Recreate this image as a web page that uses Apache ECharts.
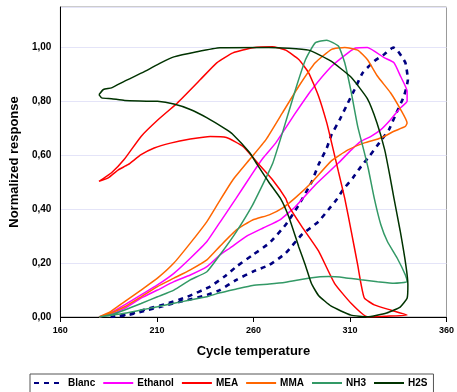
<!DOCTYPE html>
<html>
<head>
<meta charset="utf-8">
<script src="https://cdn.jsdelivr.net/npm/echarts@6.0.0/dist/echarts.min.js"></script>
<style>
  html, body { margin: 0; padding: 0; background: #fff; }
  #chart { width: 457px; height: 392px; }
</style>
</head>
<body>
<div id="chart"></div>
<script>
// [temperature, normalized response] pairs, each loop = heating + cooling
const blanc = [
  [186, 0], [195, 0.01], [205, 0.03], [215.4, 0.05], [225.7, 0.075], [237.6, 0.113], [245, 0.15],
  [251.2, 0.187], [259.6, 0.23], [268.2, 0.274], [276.7, 0.342], [283.5, 0.416], [290.3, 0.503],
  [293.7, 0.565], [298, 0.627], [300.5, 0.677], [304.7, 0.732], [308.1, 0.782], [312.4, 0.844],
  [316.6, 0.906], [322.6, 0.949], [327.7, 0.974], [332.5, 1.0], [334.5, 0.99], [338.7, 0.943],
  [340, 0.88], [338, 0.82], [333.6, 0.75], [330.2, 0.695], [325.2, 0.646], [320, 0.596],
  [315.8, 0.559], [311.5, 0.516], [306.4, 0.472], [303, 0.435], [298.8, 0.398], [293.7, 0.354],
  [285, 0.305], [276.7, 0.237], [268.2, 0.193], [259.6, 0.168], [251.2, 0.138], [242.6, 0.1],
  [235.9, 0.082], [225.7, 0.063], [215.4, 0.045], [205.3, 0.026], [195, 0.007], [186, 0]
];
const ethanol = [
  [180, 0], [186, 0.015], [193.3, 0.045], [201.8, 0.082], [210.3, 0.119], [218.8, 0.162],
  [227.3, 0.218], [235.9, 0.28], [243, 0.355], [251, 0.44], [259.6, 0.534], [265, 0.59],
  [271.6, 0.646], [281.8, 0.757], [290.3, 0.844], [300.5, 0.93], [309, 0.98], [313, 0.998],
  [319, 1.0], [327.7, 0.962], [332.8, 0.943], [336.2, 0.893], [339.6, 0.838], [339.6, 0.8],
  [336.2, 0.776], [331, 0.732], [326, 0.695], [320.9, 0.67], [315.8, 0.652], [310.7, 0.62],
  [304, 0.571], [292, 0.49], [281.8, 0.41], [273.7, 0.36], [265, 0.33], [256.3, 0.299],
  [247.7, 0.255], [242.6, 0.23], [235.9, 0.187], [227.3, 0.156], [218.8, 0.131], [210.3, 0.1],
  [201.8, 0.07], [193.3, 0.032], [184.8, 0.007], [180, 0]
];
const mea = [
  [180, 0.503], [186.5, 0.535], [193, 0.584], [201.8, 0.67], [210.3, 0.73], [220.6, 0.794],
  [232.4, 0.88], [241, 0.943], [249.4, 0.98], [259.7, 0.999], [269.8, 1.003], [276.7, 0.99],
  [283.5, 0.955], [288.6, 0.906], [293.7, 0.82], [298, 0.72], [300.5, 0.646], [304, 0.54],
  [307.3, 0.44], [310.7, 0.317], [314, 0.193], [315.8, 0.12], [317.5, 0.07], [322.6, 0.045],
  [331, 0.026], [339.6, 0.007], [329, 0.003], [319, 0.001], [310.7, 0.05], [302, 0.125],
  [293.7, 0.245], [285, 0.336], [278.4, 0.41], [276.7, 0.44], [269.8, 0.51], [263, 0.565],
  [254.6, 0.633], [246, 0.666], [237.6, 0.67], [227.3, 0.66], [217, 0.645], [208.6, 0.627],
  [201.8, 0.602], [195, 0.565], [190, 0.546], [184.8, 0.516], [180, 0.503]
];
const mma = [
  [180, 0], [186, 0.02], [193.3, 0.057], [201.8, 0.1], [210.3, 0.144], [218.8, 0.2],
  [227.3, 0.274], [235.9, 0.354], [242, 0.425], [249.4, 0.509], [258, 0.584], [266.5, 0.658],
  [275, 0.757], [283.5, 0.856], [292, 0.943], [300.5, 0.993], [307.3, 1.0], [314, 0.99],
  [319, 0.955], [324.3, 0.893], [331, 0.832], [336.2, 0.77], [339.6, 0.72], [338.7, 0.707],
  [332.8, 0.689], [326, 0.664], [317.5, 0.646], [309, 0.62], [300.5, 0.58], [290.3, 0.5],
  [281.8, 0.443], [275, 0.404], [268.2, 0.379], [259.6, 0.36], [251.2, 0.323], [242.6, 0.262],
  [235.9, 0.212], [227.3, 0.175], [218.8, 0.144], [210.3, 0.113], [201.8, 0.075], [193.3, 0.038],
  [184.8, 0.01], [180, 0]
];
const nh3 = [
  [180, 0], [186, 0.008], [193.3, 0.026], [201.8, 0.05], [210.3, 0.075], [218.8, 0.1],
  [227.3, 0.138], [235.9, 0.168], [242.6, 0.23], [251.2, 0.317], [259.6, 0.416], [266.5, 0.516],
  [270, 0.57], [275, 0.683], [281.8, 0.844], [287, 0.955], [292, 1.017], [298, 1.027],
  [304, 1.005], [307.3, 0.943], [310.7, 0.832], [314, 0.707], [317.5, 0.609], [319.5, 0.55],
  [322.6, 0.44], [326, 0.342], [329.4, 0.28], [334.5, 0.218], [338.7, 0.156], [339.6, 0.131],
  [332.8, 0.125], [324.3, 0.131], [315.8, 0.138], [307.3, 0.146], [298.8, 0.15], [290.3, 0.146],
  [276.7, 0.129], [268.2, 0.122], [259.6, 0.117], [251.2, 0.104], [242.6, 0.09], [235.9, 0.075],
  [227.3, 0.063], [218.8, 0.051], [210.3, 0.038], [201.8, 0.026], [193.3, 0.014], [184.8, 0.005],
  [180, 0]
];
const h2s = [
  [180, 0.825], [182.3, 0.844], [186.5, 0.85], [193.3, 0.875], [203.5, 0.91], [212, 0.943],
  [218.8, 0.965], [230.7, 0.984], [242.7, 0.999], [268, 1.0], [288.6, 0.99], [300, 0.95],
  [310.5, 0.89], [319, 0.81], [324, 0.72], [328, 0.62], [330.5, 0.53], [332.8, 0.44],
  [336, 0.32], [339, 0.19], [340, 0.12], [339.6, 0.07], [336, 0.037], [329, 0.015], [319, 0.001],
  [310.5, 0.007], [300.3, 0.04], [293.7, 0.08], [290, 0.125], [287, 0.19], [283.5, 0.26],
  [278.4, 0.37], [274, 0.44], [268, 0.5], [262, 0.565], [258, 0.61], [249, 0.68], [245, 0.7],
  [236, 0.739], [227.3, 0.77], [218.8, 0.79], [210.3, 0.8], [193.3, 0.803], [186.5, 0.81],
  [181.4, 0.813], [180, 0.825]
];

const seriesNames = ['Blanc', 'Ethanol', 'MEA', 'MMA', 'NH3', 'H2S'];
const seriesData = [blanc, ethanol, mea, mma, nh3, h2s];
const seriesColors = ['#000080', '#FF00FF', '#FF0000', '#FF6600', '#339966', '#003300'];

const xTicks = { min: 160, max: 360, interval: 50 };
const yTicks = { min: 0, max: 1.15, interval: 0.2 };

const font = '"Liberation Sans", Arial, sans-serif';

const chart = echarts.init(document.getElementById('chart'), null, { renderer: 'canvas' });

const series = seriesNames.map((name, i) => ({
  name: name,
  type: 'line',
  data: seriesData[i],
  symbol: 'none',
  showSymbol: false,
  smooth: 0.15,
  itemStyle: { color: seriesColors[i] },
  lineStyle: i === 0
    ? { color: seriesColors[i], width: 2.6, type: [5, 5] }
    : { color: seriesColors[i], width: 1.5 }
}));

chart.setOption({
  animation: false,
  backgroundColor: '#fff',
  grid: {
    left: 58, right: 7, top: 7, bottom: 75,
    show: true,
    borderColor: '#999',
    borderWidth: 1
  },
  legend: {
    data: seriesNames,
    left: 30,
    top: 374,
    width: 421,
    padding: [4, 6, 12, 3],
    itemGap: 7,
    itemWidth: 30,
    itemHeight: 6,
    borderColor: '#555',
    borderWidth: 1,
    itemStyle: { opacity: 0 },
    textStyle: { fontFamily: font, fontWeight: 'bold', fontSize: 10, color: '#000', padding: [0, 0, 0, -1] }
  },
  xAxis: {
    type: 'value',
    min: xTicks.min,
    max: xTicks.max,
    interval: xTicks.interval,
    name: 'Cycle temperature',
    nameLocation: 'middle',
    nameGap: 28,
    nameTextStyle: { fontFamily: font, fontWeight: 'bold', fontSize: 13, color: '#000' },
    axisLine: { lineStyle: { color: '#000', width: 1 } },
    axisTick: { show: true, length: 5, inside: false, lineStyle: { color: '#000' } },
    axisLabel: { fontFamily: font, fontWeight: 'bold', fontSize: 9, color: '#000', margin: 9 },
    splitLine: { show: false }
  },
  yAxis: {
    type: 'value',
    min: yTicks.min,
    max: yTicks.max,
    interval: yTicks.interval,
    name: 'Normalized response',
    nameLocation: 'middle',
    nameGap: 31,
    nameTextStyle: { fontFamily: font, fontWeight: 'bold', fontSize: 13, color: '#000' },
    axisLine: { show: true, lineStyle: { color: '#000', width: 1 } },
    axisTick: { show: false },
    axisLabel: {
      fontFamily: font, fontWeight: 'bold', fontSize: 10, color: '#000', margin: 9,
      formatter: v => (v > 1.01 ? '' : v.toFixed(2).replace('.', ','))
    },
    splitLine: { show: true, lineStyle: { color: '#E4E4F8', width: 1 } }
  },
  series: series
});
</script>
</body>
</html>
